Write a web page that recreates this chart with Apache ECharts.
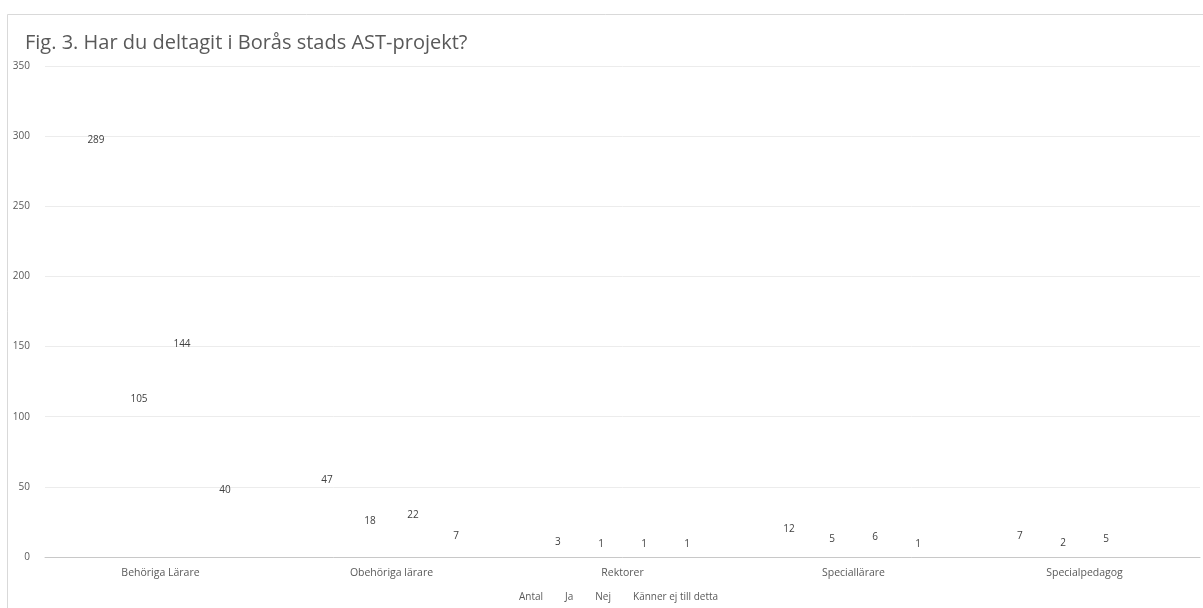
<!DOCTYPE html>
<html><head><meta charset="utf-8">
<script src="https://cdn.jsdelivr.net/npm/echarts@6/dist/echarts.min.js"></script>
<style>html,body{margin:0;padding:0;background:#fff}#c{width:1203px;height:608px}</style>
</head><body><div id="c"></div>
<script>
const titleText = 'Fig. 3. Har du deltagit i Borås stads AST-projekt?';
const categories = ['Behöriga Lärare', 'Obehöriga lärare', 'Rektorer', 'Speciallärare', 'Specialpedagog'];
const seriesNames = ['Antal', 'Ja', 'Nej', 'Känner ej till detta'];
const antal = [289, 47, 3, 12, 7];
const ja = [105, 18, 1, 5, 2];
const nej = [144, 22, 1, 6, 5];
const kannerEj = [40, 7, 1, 1, null];
const yTicks = {min: 0, max: 350, interval: 50};

const seriesData = [antal, ja, nej, kannerEj];
const font = 'Open Sans';
const chart = echarts.init(document.getElementById('c'), null, {renderer: 'canvas'});
chart.setOption({
  animation: false,
  backgroundColor: '#ffffff',
  textStyle: {fontFamily: font},
  graphic: [{type: 'rect', shape: {x: 7.5, y: 14.5, width: 1300, height: 700}, style: {fill: 'none', stroke: '#d9d9d9', lineWidth: 1}, silent: true}],
  title: {text: titleText, left: 20, top: 28, textStyle: {fontFamily: font, fontSize: 20, fontWeight: 'normal', color: '#595959'}},
  legend: {data: seriesNames, bottom: 1, left: 504, itemWidth: 7, itemHeight: 7, itemGap: 12,
    textStyle: {fontFamily: font, fontSize: 10, color: '#595959', padding: [0, 0, 0, -2]}},
  grid: {left: 45, right: 3, top: 66, bottom: 51, containLabel: false},
  xAxis: {type: 'category', data: categories,
    axisLine: {lineStyle: {color: '#c8c8c8'}}, axisTick: {show: false},
    axisLabel: {fontFamily: font, fontSize: 10.5, color: '#595959', margin: 11}},
  yAxis: {type: 'value', min: yTicks.min, max: yTicks.max, interval: yTicks.interval,
    axisLine: {show: false}, axisTick: {show: false},
    splitLine: {lineStyle: {color: '#ececec'}},
    axisLabel: {fontFamily: font, fontSize: 10, color: '#595959', margin: 15}},
  series: seriesNames.map((n, i) => ({
    name: n, type: 'bar', data: seriesData[i], barGap: '0%', barCategoryGap: '25.5%',
    itemStyle: {color: 'rgba(0,0,0,0)'},
    label: {show: true, position: 'top', distance: 6, fontFamily: font, fontSize: 10, color: '#404040'}
  }))
});
</script></body></html>
